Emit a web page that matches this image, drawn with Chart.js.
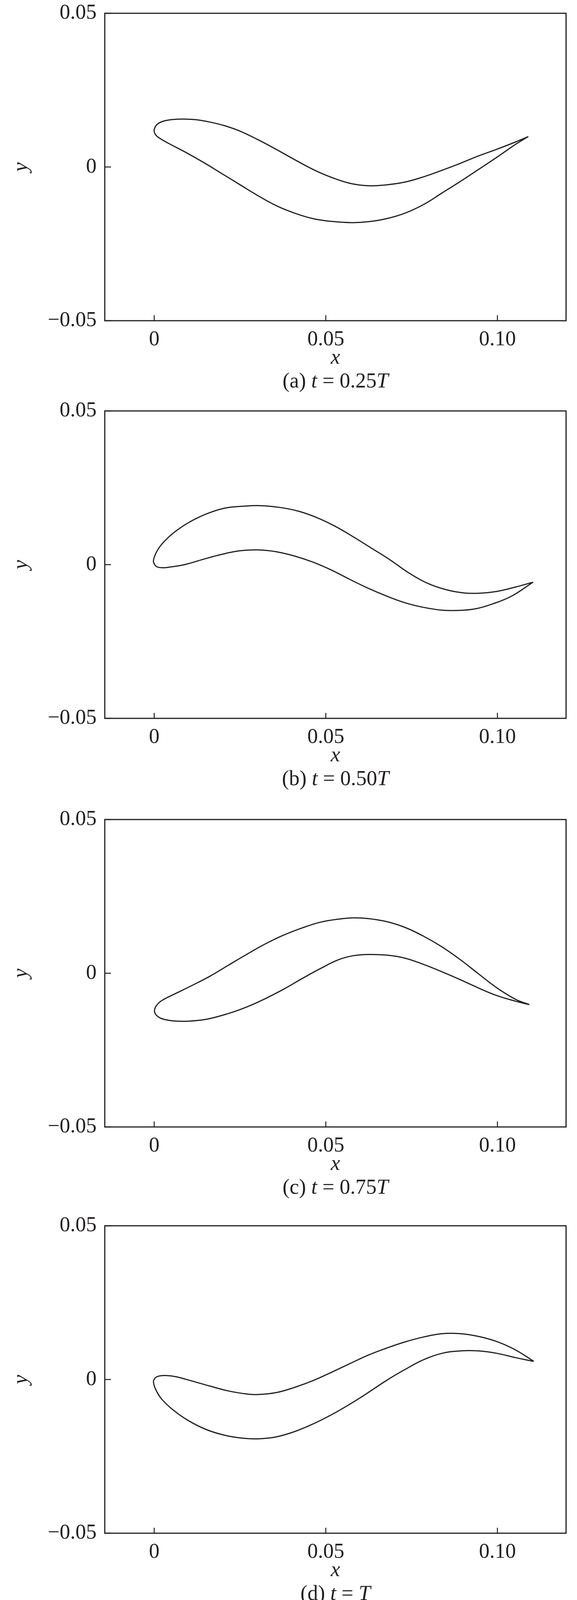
<!DOCTYPE html>
<html>
<head>
<meta charset="utf-8">
<title>Foil shapes over one period</title>
<script src="https://cdn.jsdelivr.net/npm/chart.js@4.4.0/dist/chart.umd.min.js"></script>
<style>
  body { margin: 0; background: #fff; width: 1476px; height: 4108px; position: relative; overflow: hidden; }
  .panel { position: absolute; left: 0; width: 1476px; height: 1000px; }
  .panel canvas { position: absolute; left: 0; top: 0; }
  .caption {
    position: absolute; left: 268px; width: 1180px; top: 947px;
    text-align: center; font-family: "Liberation Serif", "Times New Roman", serif;
    font-size: 54px; line-height: 54px; color: #231f20; white-space: pre;
  }
  .caption i { font-style: italic; }
</style>
</head>
<body>
<div class="panel" style="top:0px"><canvas id="chartA" width="1476" height="1000"></canvas>
  <div class="caption">(a) <i>t</i> = 0.25<i>T</i></div></div>
<div class="panel" style="top:1018px"><canvas id="chartB" width="1476" height="1000"></canvas>
  <div class="caption">(b) <i>t</i> = 0.50<i>T</i></div></div>
<div class="panel" style="top:2064px"><canvas id="chartC" width="1476" height="1000"></canvas>
  <div class="caption">(c) <i>t</i> = 0.75<i>T</i></div></div>
<div class="panel" style="top:3104px"><canvas id="chartD" width="1476" height="1000"></canvas>
  <div class="caption">(d) <i>t</i> = <i>T</i></div></div>

<script>
// Axis setup
const X_MIN = -0.0144;
const X_MAX = 0.12;
const Y_MIN = -0.05;
const Y_MAX = 0.05;
const X_TICKS = [0, 0.05, 0.1];
const X_TICK_LABELS = ["0", "0.05", "0.10"];
const Y_TICKS = [-0.05, 0, 0.05];
const Y_TICK_LABELS = ["\u22120.05", "0", "0.05"];

const INK = "#231f20";
const FONT = "'Liberation Serif', 'Times New Roman', serif";

// Foil outlines, [x, y], leading edge -> trailing edge
// (a) t = 0.25T
const upperA = [[0, 0.0120], [0.0008, 0.0138], [0.0024, 0.0148], [0.0050, 0.0154], [0.0083, 0.0156],
  [0.0120, 0.0154], [0.0163, 0.0146], [0.0206, 0.0134], [0.0249, 0.0117], [0.0302, 0.0089],
  [0.0356, 0.0057], [0.0409, 0.0024], [0.0463, -0.0008], [0.0517, -0.0034], [0.0570, -0.0053],
  [0.0624, -0.0061], [0.0677, -0.0058], [0.0731, -0.0049], [0.0785, -0.0032], [0.0838, -0.0011],
  [0.0892, 0.0012], [0.0945, 0.0036], [0.0999, 0.0058], [0.1052, 0.0081], [0.1090, 0.0099]];
const lowerA = [[0, 0.0120], [0.0004, 0.0105], [0.0018, 0.0092], [0.0045, 0.0075], [0.0088, 0.0050],
  [0.0142, 0.0016], [0.0195, -0.0020], [0.0249, -0.0057], [0.0302, -0.0093], [0.0356, -0.0126],
  [0.0409, -0.0150], [0.0463, -0.0168], [0.0517, -0.0177], [0.0576, -0.0181], [0.0624, -0.0178],
  [0.0677, -0.0168], [0.0731, -0.0150], [0.0785, -0.0122], [0.0838, -0.0085], [0.0892, -0.0047],
  [0.0945, -0.0008], [0.0999, 0.0032], [0.1052, 0.0073], [0.1090, 0.0099]];

// (b) t = 0.50T
const upperB = [[-0.0002, 0.0015], [0.0008, 0.0044], [0.0024, 0.0069], [0.0056, 0.0103], [0.0099, 0.0136],
  [0.0152, 0.0165], [0.0206, 0.0184], [0.0259, 0.0190], [0.0308, 0.0192], [0.0367, 0.0186],
  [0.0420, 0.0174], [0.0474, 0.0153], [0.0527, 0.0125], [0.0581, 0.0090], [0.0634, 0.0053],
  [0.0688, 0.0015], [0.0742, -0.0027], [0.0795, -0.0060], [0.0849, -0.0081], [0.0902, -0.0092],
  [0.0945, -0.0093], [0.0999, -0.0087], [0.1052, -0.0073], [0.1104, -0.0057]];
const lowerB = [[-0.0002, 0.0015], [0, 0.0003], [0.0008, -0.0007], [0.0024, -0.0010], [0.0045, -0.0008],
  [0.0088, 0.0000], [0.0142, 0.0017], [0.0195, 0.0033], [0.0249, 0.0045], [0.0302, 0.0048],
  [0.0356, 0.0042], [0.0409, 0.0028], [0.0463, 0.0008], [0.0517, -0.0018], [0.0570, -0.0048],
  [0.0624, -0.0077], [0.0677, -0.0102], [0.0731, -0.0124], [0.0785, -0.0139], [0.0838, -0.0148],
  [0.0881, -0.0149], [0.0935, -0.0144], [0.0988, -0.0127], [0.1042, -0.0102], [0.1104, -0.0057]];

// (c) t = 0.75T
const upperC = [[0.0001, -0.0119], [0.0012, -0.0098], [0.0028, -0.0085], [0.0066, -0.0064], [0.0108, -0.0041],
  [0.0162, -0.0010], [0.0216, 0.0026], [0.0269, 0.0061], [0.0323, 0.0095], [0.0377, 0.0124],
  [0.0430, 0.0147], [0.0484, 0.0166], [0.0537, 0.0176], [0.0580, 0.0180], [0.0623, 0.0178],
  [0.0677, 0.0168], [0.0731, 0.0149], [0.0784, 0.0121], [0.0838, 0.0086], [0.0892, 0.0044],
  [0.0945, -0.0002], [0.0999, -0.0048], [0.1053, -0.0085], [0.1093, -0.0102]];
const lowerC = [[0.0001, -0.0119], [0.0006, -0.0136], [0.0023, -0.0148], [0.0055, -0.0155], [0.0098, -0.0156],
  [0.0151, -0.0150], [0.0216, -0.0131], [0.0269, -0.0110], [0.0323, -0.0083], [0.0377, -0.0052],
  [0.0430, -0.0018], [0.0484, 0.0015], [0.0537, 0.0044], [0.0580, 0.0057], [0.0623, 0.0061],
  [0.0677, 0.0059], [0.0731, 0.0049], [0.0784, 0.0029], [0.0838, 0.0005], [0.0892, -0.0021],
  [0.0945, -0.0048], [0.0999, -0.0073], [0.1053, -0.0091], [0.1093, -0.0102]];

// (d) t = T
const upperD = [[-0.0002, -0.0009], [0.0002, 0.0004], [0.0013, 0.0011], [0.0032, 0.0013], [0.0064, 0.0009],
  [0.0107, -0.0004], [0.0161, -0.0021], [0.0215, -0.0037], [0.0269, -0.0047], [0.0301, -0.0049],
  [0.0354, -0.0043], [0.0408, -0.0026], [0.0462, -0.0004], [0.0516, 0.0023], [0.0569, 0.0051],
  [0.0623, 0.0079], [0.0677, 0.0102], [0.0730, 0.0122], [0.0784, 0.0138], [0.0838, 0.0149],
  [0.0892, 0.0149], [0.0945, 0.0140], [0.0999, 0.0123], [0.1053, 0.0096], [0.1106, 0.0059]];
const lowerD = [[-0.0002, -0.0009], [0.0005, -0.0034], [0.0022, -0.0064], [0.0054, -0.0098], [0.0097, -0.0132],
  [0.0150, -0.0162], [0.0204, -0.0181], [0.0258, -0.0191], [0.0301, -0.0193], [0.0354, -0.0187],
  [0.0408, -0.0170], [0.0462, -0.0145], [0.0516, -0.0115], [0.0569, -0.0081], [0.0623, -0.0043],
  [0.0677, -0.0003], [0.0730, 0.0032], [0.0784, 0.0064], [0.0838, 0.0085], [0.0892, 0.0093],
  [0.0945, 0.0093], [0.0999, 0.0085], [0.1053, 0.0071], [0.1106, 0.0059]];

// Box around the plot plus inward tick marks
const frameTicks = {
  id: "frameTicks",
  afterDraw(chart) {
    const { ctx, chartArea: a, scales } = chart;
    ctx.save();
    ctx.strokeStyle = INK;
    ctx.lineWidth = 3;
    ctx.strokeRect(a.left, a.top, a.right - a.left, a.bottom - a.top);
    ctx.lineWidth = 2.5;
    ctx.beginPath();
    scales.x.ticks.forEach((t) => {
      const px = scales.x.getPixelForValue(t.value);
      ctx.moveTo(px, a.bottom);
      ctx.lineTo(px, a.bottom - 14);
    });
    scales.y.ticks.forEach((t) => {
      const py = scales.y.getPixelForValue(t.value);
      ctx.moveTo(a.left, py);
      ctx.lineTo(a.left + 16, py);
    });
    ctx.stroke();
    ctx.restore();
  },
};

// closed outline: trailing edge -> upper -> leading edge -> lower -> trailing edge
function outline(upper, lower) {
  const pts = upper.slice().reverse().concat(lower.slice(1));
  return pts.map((p) => ({ x: p[0], y: p[1] }));
}

function makePanel(id, upper, lower) {
  const ctx = document.getElementById(id).getContext("2d");
  return new Chart(ctx, {
    type: "scatter",
    data: {
      datasets: [
        {
          data: outline(upper, lower),
          showLine: true,
          borderColor: INK,
          borderWidth: 3,
          pointRadius: 0,
          tension: 0.4,
          fill: false,
        },
      ],
    },
    options: {
      responsive: false,
      animation: false,
      devicePixelRatio: 1,
      layout: { padding: { top: 34, right: 28, bottom: 0, left: 0 } },
      plugins: { legend: { display: false }, tooltip: { enabled: false } },
      scales: {
        x: {
          type: "linear",
          min: X_MIN,
          max: X_MAX,
          afterBuildTicks: (s) => { s.ticks = X_TICKS.map((v) => ({ value: v })); },
          afterFit: (s) => {
            s.height = 179;
            s.paddingLeft = 0;
            s.paddingRight = 0;
          },
          grid: { display: false, drawTicks: false },
          border: { display: false },
          ticks: {
            padding: 16,
            color: INK,
            font: { family: FONT, size: 54 },
            maxRotation: 0,
            callback: (v, i) => X_TICK_LABELS[i],
          },
          title: {
            display: true,
            text: "x",
            color: INK,
            font: { family: FONT, size: 54, style: "italic", lineHeight: 1.2 },
            padding: { top: 0, bottom: 51 },
          },
        },
        y: {
          type: "linear",
          min: Y_MIN,
          max: Y_MAX,
          afterBuildTicks: (s) => { s.ticks = Y_TICKS.map((v) => ({ value: v })); },
          afterFit: (s) => {
            s.width = 268;
            s.paddingTop = 0;
            s.paddingBottom = 0;
          },
          grid: { display: false, drawTicks: false },
          border: { display: false },
          ticks: {
            padding: 21,
            color: INK,
            font: { family: FONT, size: 54 },
            callback: (v, i) => Y_TICK_LABELS[i],
          },
          title: {
            display: true,
            text: "y",
            color: INK,
            font: { family: FONT, size: 54, style: "italic", lineHeight: 1.2 },
            padding: { top: 22, bottom: 0 },
          },
        },
      },
    },
    plugins: [frameTicks],
  });
}

makePanel("chartA", upperA, lowerA);
makePanel("chartB", upperB, lowerB);
makePanel("chartC", upperC, lowerC);
makePanel("chartD", upperD, lowerD);
</script>
</body>
</html>
